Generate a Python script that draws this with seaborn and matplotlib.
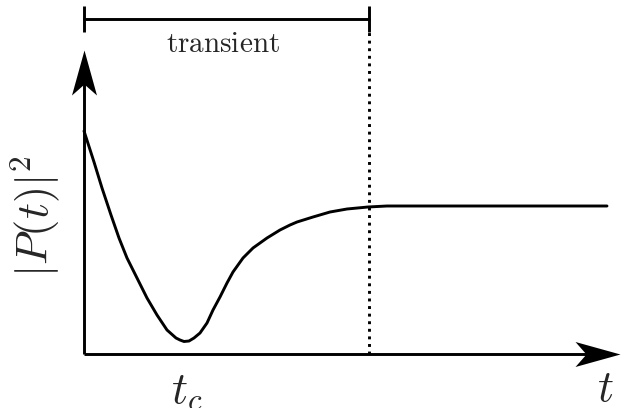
import matplotlib
matplotlib.use("Agg")
import matplotlib.pyplot as plt
from matplotlib.path import Path
from matplotlib.markers import MarkerStyle
import seaborn as sns
import pandas as pd

# ---- data ----
t_values = [0.00, 0.10, 0.18, 0.27, 0.35, 0.43, 0.53, 0.63, 0.73, 0.83, 0.92,
            0.96, 1.00, 1.05, 1.10, 1.16, 1.23, 1.29, 1.36, 1.43, 1.49, 1.59, 1.69,
            1.83, 1.96, 2.06, 2.13, 2.29, 2.46, 2.63, 2.84, 3.03, 3.26, 5.23]
p_values = [2.23, 1.92, 1.66, 1.39, 1.16, 0.96, 0.76, 0.56, 0.39, 0.24, 0.16,
            0.14, 0.125, 0.13, 0.16, 0.21, 0.31, 0.44, 0.57, 0.71, 0.82, 0.96, 1.06,
            1.16, 1.24, 1.29, 1.32, 1.37, 1.42, 1.45, 1.47, 1.48, 1.48, 1.48]
t_c = 1.03
t_transient_end = 2.85
x_axis_end = 5.36
y_axis_end = 3.04
bracket_level = 3.35
label_transient = r"$\mathrm{transient}$"
label_tc = r"$t_c$"
label_t = r"$t$"
label_y = r"$|P(t)|^2$"

# ---- style ----
sns.set_style("white")
plt.rcParams["mathtext.fontset"] = "cm"
plt.rcParams["font.family"] = ["DejaVu Serif"]

fig = plt.figure(figsize=(6.21, 4.08), dpi=100)
ax = fig.add_axes([0, 0, 1, 1])
ax.set_xlim(-0.84, 5.37)
ax.set_ylim(-0.54, 3.54)
ax.set_axis_off()

lw = 2.1

df = pd.DataFrame({"t": t_values, "P": p_values})
sns.lineplot(data=df, x="t", y="P", color="black", linewidth=lw, sort=False,
             estimator=None, ax=ax, solid_joinstyle="round", solid_capstyle="round")

# axes lines
ax.plot([0, x_axis_end - 0.2], [0, 0], color="black", lw=lw, solid_capstyle="butt")
ax.plot([0, 0], [0, y_axis_end - 0.2], color="black", lw=lw, solid_capstyle="butt")

# stealth arrowheads
L, h, d = 45.0, 12.5, 34.0
right_verts = [(0, 0), (-L, h), (-d, 0), (-L, -h), (0, 0)]
up_verts = [(0, 0), (-h, -L), (0, -d), (h, -L), (0, 0)]
codes = [Path.MOVETO, Path.LINETO, Path.LINETO, Path.LINETO, Path.CLOSEPOLY]
ms = 2 * L / (100 / 72)
ax.plot([x_axis_end], [0], marker=MarkerStyle(Path(right_verts, codes)),
        markersize=ms, color="black", markeredgewidth=0)
ax.plot([0], [y_axis_end], marker=MarkerStyle(Path(up_verts, codes)),
        markersize=ms, color="black", markeredgewidth=0)

# transient bracket
ax.plot([0, t_transient_end], [bracket_level, bracket_level], color="black", lw=lw)
for xe in (0, t_transient_end):
    ax.plot([xe, xe], [bracket_level - 0.13, bracket_level + 0.13], color="black", lw=lw,
            solid_capstyle="butt")
ax.plot([t_transient_end, t_transient_end], [0, bracket_level - 0.13], color="black",
        lw=lw, linestyle=(0, (1.0, 1.6)), dash_capstyle="butt")

# labels
ax.text(t_transient_end / 2 - 0.04, 3.10, label_transient, fontsize=21, ha="center", va="center")
ax.text(t_c, -0.36, label_tc, fontsize=32, ha="center", va="center")
ax.text(5.21, -0.34, label_t, fontsize=32, ha="center", va="center")
ax.text(-0.49, 1.38, label_y, fontsize=32, ha="center", va="center", rotation=90)

fig.savefig("out.png", dpi=100)
